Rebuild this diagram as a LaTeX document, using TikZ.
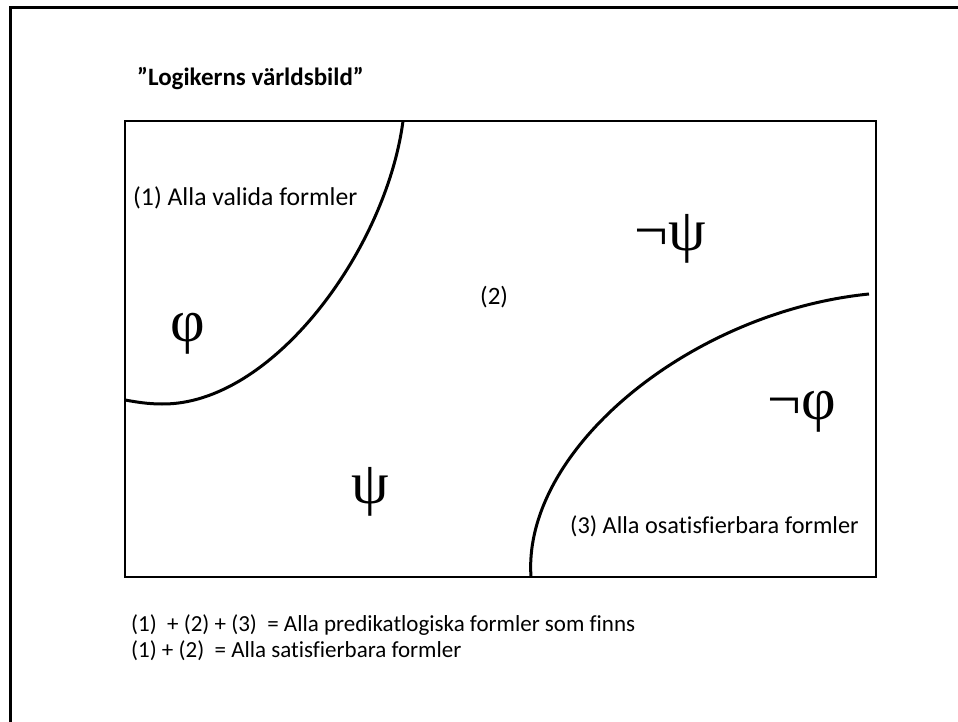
\documentclass[tikz,border=0pt]{standalone}
\usepackage{fontspec}
\setmainfont[Ligatures=CommonOff]{Carlito}
\newfontfamily\greekfont{Liberation Serif}
\begin{document}
\begin{tikzpicture}[x=1pt,y=-1pt,
  frameline/.style={line width=3pt},
  boxline/.style={line width=2pt},
  curveline/.style={line width=3pt},
  lbl/.style={font=\fontsize{25}{30}\selectfont, inner sep=0pt, anchor=base west},
  note/.style={font=\fontsize{23}{28}\selectfont, inner sep=0pt, anchor=base west},
  ttl/.style={font=\bfseries\fontsize{25}{30}\selectfont, inner sep=0pt, anchor=base west},
  sym/.style={font=\greekfont\fontsize{60}{66}\selectfont, inner sep=0pt, anchor=center}]
\useasboundingbox (0,0) rectangle (958,722);
% slide frame
\coordinate (fbl) at (10,740);
\coordinate (ftl) at (10,8);
\coordinate (ftr) at (975,8);
\draw[frameline] (fbl) -- (ftl) -- (ftr);
% title
\node[ttl] (title) at (137,86) {”Logikerns världsbild”};
% main box
\coordinate (btl) at (125,121);
\coordinate (bbr) at (876,577);
\draw[boxline] (btl) rectangle (bbr);
% curve 1
\coordinate (c1a) at (403,121);
\coordinate (c1b) at (162,404);
\coordinate (c1c) at (125,400);
\draw[curveline] (c1a) .. controls (386,250) and (272,405) .. (c1b) .. controls (148,404) and (136,402) .. (c1c);
% curve 2
\coordinate (c2a) at (531,577);
\coordinate (c2b) at (869,294);
\draw[curveline] (c2a) .. controls (522,450) and (690,312) .. (c2b);
% labels
\node[lbl, font=\fontsize{25.7}{30}\selectfont] (l1) at (133,205) {(1) Alla valida formler};
\node[lbl] (l2) at (480,304) {(2)};
\node[lbl, font=\fontsize{24.3}{30}\selectfont] (l3) at (570,533) {(3) Alla osatisfierbara formler};
\node[note] (s1) at (131,631) {(1)\ \ + (2) + (3)\ \ = Alla predikatlogiska formler som finns};
\node[note] (s2) at (131,657) {(1) + (2)\ \ = Alla satisfierbara formler};
% symbols
\node[sym] (phi) at (188,334) {φ};
\node[sym] (psi) at (370,492) {ψ};
\node[sym] (npsi) at (670,239) {¬ψ};
\node[sym] (nphi) at (802,412) {¬φ};
\end{tikzpicture}
\end{document}
